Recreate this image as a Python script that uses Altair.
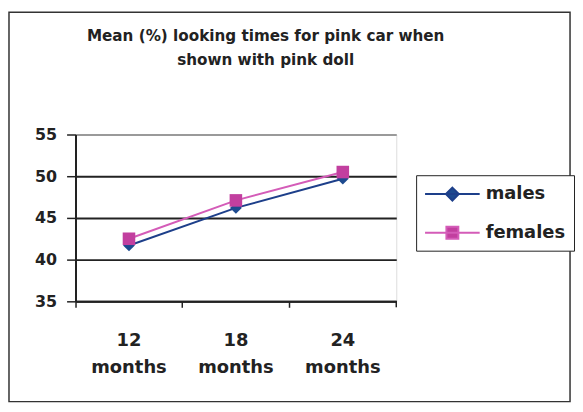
import altair as alt
import pandas as pd

ages = ["12 months", "18 months", "24 months"]
males = [41.7, 46.2, 49.7]
females = [42.5, 47.1, 50.5]
series_names = ["males", "females"]
line_colors = ["#1d3f8a", "#d45cb8"]
marker_colors = ["#1d4a8f", "#c23f9f"]
y_ticks = [35, 40, 45, 50, 55]

rows = []
for a, m, f in zip(ages, males, females):
    rows.append({"age": a, "series": "males", "value": m})
    rows.append({"age": a, "series": "females", "value": f})
df = pd.DataFrame(rows)

FONT = "DejaVu Sans"
W, H = 323, 168

x_axis = alt.Axis(
    title=None,
    labelAngle=0,
    bandPosition=0,
    labelExpr="split(datum.label, ' ')",
    labelFont=FONT,
    labelFontSize=18,
    labelFontWeight="bold",
    labelColor="#222",
    labelBaseline="top",
    labelLineHeight=28,
    labelPadding=24,
    tickSize=6,
    tickColor="#222",
    tickWidth=1.5,
    domainColor="#222",
    domainWidth=2,
    grid=False,
)
x_scale = alt.Scale(type="band", paddingInner=0, paddingOuter=0)
x_enc = alt.X("age:N", sort=ages, scale=x_scale, axis=x_axis)
x_end = alt.X("age:N", sort=ages, scale=x_scale, axis=x_axis, bandPosition=1)

y_enc = alt.Y(
    "value:Q",
    scale=alt.Scale(domain=[35, 55], nice=False, zero=False),
    axis=alt.Axis(
        title=None,
        values=y_ticks,
        labelFont=FONT,
        labelFontSize=16,
        labelFontWeight="bold",
        labelColor="#222",
        labelPadding=10,
        tickSize=9,
        tickColor="#222",
        tickWidth=1.5,
        domainColor="#222",
        domainWidth=2,
        grid=True,
        gridColor={"condition": {"test": "datum.value === 55", "value": "#9a9a9a"}, "value": "#222"},
        gridWidth=2,
    ),
)

base = alt.Chart(df)

line_m = base.transform_filter("datum.series === 'males'").mark_line(
    strokeWidth=2, color=line_colors[0]
).encode(x=x_enc, y=y_enc)
line_f = base.transform_filter("datum.series === 'females'").mark_line(
    strokeWidth=2, color=line_colors[1]
).encode(x=x_enc, y=y_enc)

pts_m = base.transform_filter("datum.series === 'males'").mark_point(
    shape="diamond", filled=True, size=140, opacity=1, color=marker_colors[0]
).encode(x=x_enc, y=y_enc)
pts_f = base.transform_filter("datum.series === 'females'").mark_point(
    shape="square", filled=True, size=160, opacity=1, color=marker_colors[1]
).encode(x=x_enc, y=y_enc)

# closing tick at the right end of the category axis
end_tick = base.transform_filter(
    alt.FieldEqualPredicate(field="age", equal=ages[-1])
).transform_filter("datum.series === 'males'").mark_rule(
    color="#222", strokeWidth=1.5
).encode(x=x_end, y=alt.value(H), y2=alt.value(H + 6))

legend_paths = [
    "M-1,0H4.5M1.75,-0.65L2.4,0L1.75,0.65L1.1,0Z",
    "M-1,0H4.5M1.15,-0.6H2.35V0.6H1.15Z",
]
LEG = dict(
    title=None,
    orient="none",
    legendX=343,
    legendY=41,
    symbolSize=400,
    symbolStrokeWidth=2,
    labelFont=FONT,
    labelFontSize=18,
    labelFontWeight="bold",
    labelColor="#222",
    labelOffset=40,
    rowPadding=17,
    padding=8,
    strokeColor="#222",
    fillColor="white",
    cornerRadius=0,
)
leg = base.transform_filter("false").mark_point(filled=True, opacity=1, strokeWidth=2).encode(
    shape=alt.Shape("series:N", scale=alt.Scale(domain=series_names, range=legend_paths),
                    legend=alt.Legend(**LEG)),
    fill=alt.Fill("series:N", scale=alt.Scale(domain=series_names, range=marker_colors),
                  legend=alt.Legend(**LEG)),
    stroke=alt.Stroke("series:N", scale=alt.Scale(domain=series_names, range=line_colors),
                      legend=alt.Legend(**LEG)),
)

frame = alt.Chart(pd.DataFrame({"k": [0]})).mark_rect(
    fill="white", fillOpacity=0, stroke="#333", strokeWidth=1.5
).encode(
    x=alt.value(-67), x2=alt.value(498), y=alt.value(-123), y2=alt.value(269)
)

chart = alt.layer(frame, line_m, line_f, pts_m, pts_f, end_tick, leg).properties(
    width=W,
    height=H,
    padding={"left": 0, "top": 2, "right": 0, "bottom": 0},
    title=alt.TitleParams(
        text=["Mean (%) looking times for pink car when", "shown with pink doll"],
        font=FONT,
        fontSize=15.3,
        fontWeight="bold",
        color="#222",
        lineHeight=24,
        anchor="middle",
        frame="group",
        dx=30,
        offset=-57,
    ),
).configure_view(
    fill="#d6d8e0", stroke="#9a9a9a", strokeWidth=1.5
).configure(background="white")

chart.save("out.html", embed_options={"renderer": "svg", "actions": False})
